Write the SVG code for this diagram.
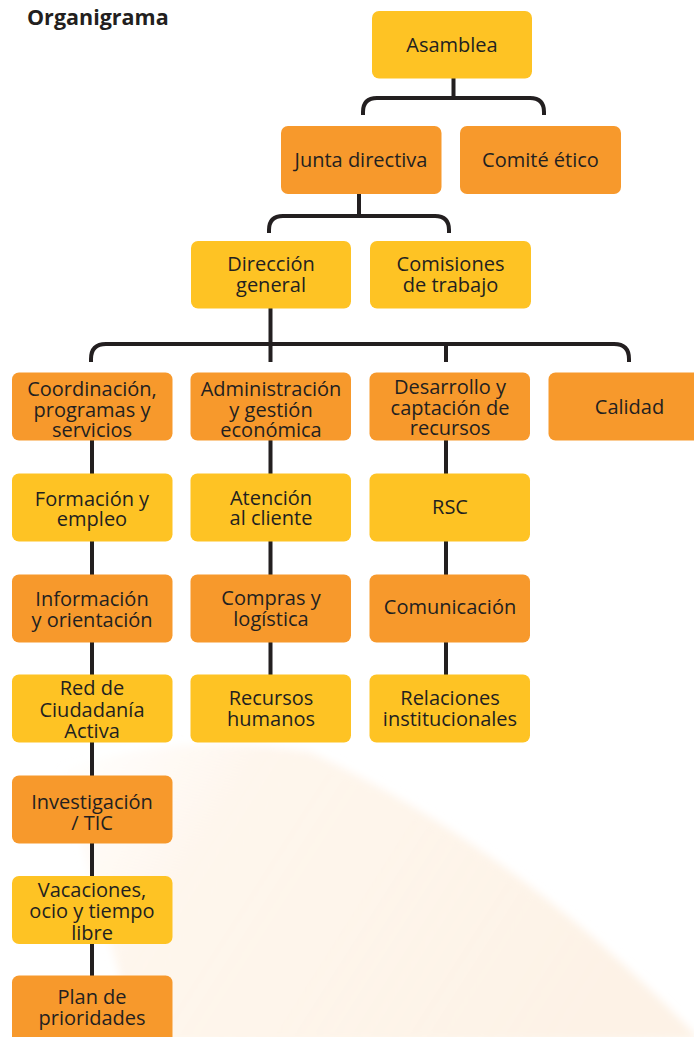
<svg xmlns="http://www.w3.org/2000/svg" width="694" height="1037" viewBox="0 0 694 1037">
<style>
.y{fill:#FEC324}
.o{fill:#F7992C}
text{font-family:"Open Sans","Noto Sans","Liberation Sans",sans-serif;font-size:20px;fill:#231F20;text-anchor:middle}
.title{font-weight:bold;text-anchor:start;font-size:21.5px}
.c{fill:none;stroke:#231F20;stroke-width:4}
</style>
<defs>
<linearGradient id="bgg" x1="0" y1="0" x2="1" y2="0.3">
<stop offset="0" stop-color="#FEF5EB" stop-opacity="0"/>
<stop offset="0.3" stop-color="#FEF5EB" stop-opacity="0.9"/>
<stop offset="1" stop-color="#FDF2E6"/>
</linearGradient>
<filter id="blur" x="-0.2" y="-0.2" width="1.4" height="1.4"><feGaussianBlur stdDeviation="4"/></filter>
</defs>
<rect width="694" height="1037" fill="#FFFFFF"/>
<path d="M60,770 Q180,730 310,752 Q520,850 700,1040 L140,1045 Z" fill="url(#bgg)" filter="url(#blur)"/>
<text class="title" x="27" y="24.5">Organigrama</text>
<g id="connectors">
<path class="c" d="M453.5,78 V98"/>
<path class="c" d="M363,115 V112 Q363,98 377,98 H530 Q544,98 544,112 V115"/>
<path class="c" d="M359,194 V216"/>
<path class="c" d="M269,233 V230 Q269,216 283,216 H435 Q449,216 449,230 V233"/>
<path class="c" d="M270.5,308 V362"/>
<path class="c" d="M91,362 V359 Q91,344 106,344 H614 Q629,344 629,359 V362"/>
<path class="c" d="M446,344 V362"/>
<path class="c" d="M92,440 V980"/>
<path class="c" d="M270.5,440 V680"/>
<path class="c" d="M446,440 V680"/>
</g>
<g id="asamblea"><rect class="y" x="372" y="11" width="160" height="67.5" rx="7"/><text x="452" y="52">Asamblea</text></g>
<g id="junta"><rect class="o" x="281" y="126" width="160.5" height="68" rx="7"/><text x="361" y="167">Junta directiva</text></g>
<g id="comite"><rect class="o" x="460" y="126" width="161" height="68" rx="7"/><text x="540.5" y="167">Comité ético</text></g>
<g id="direccion"><rect class="y" x="191" y="241" width="160" height="67.5" rx="7"/><text x="271" y="271">Dirección</text><text x="271" y="291.5">general</text></g>
<g id="comisiones"><rect class="y" x="370" y="241" width="161" height="67.5" rx="7"/><text x="450.5" y="271">Comisiones</text><text x="450.5" y="291.5">de trabajo</text></g>
<g id="coordinacion"><rect class="o" x="12" y="372.5" width="160.5" height="68" rx="7"/><text x="92" y="396">Coordinación,</text><text x="92" y="416.5">programas y</text><text x="92" y="437">servicios</text></g>
<g id="administracion"><rect class="o" x="190.5" y="372.5" width="160.5" height="68" rx="7"/><text x="271" y="396">Administración</text><text x="271" y="416.5">y gestión</text><text x="271" y="437">económica</text></g>
<g id="desarrollo"><rect class="o" x="369.5" y="372.5" width="160.5" height="68" rx="7"/><text x="450" y="394">Desarrollo y</text><text x="450" y="414.5">captación de</text><text x="450" y="435">recursos</text></g>
<g id="calidad"><rect class="o" x="548.5" y="372.5" width="161" height="68" rx="7"/><text x="629.5" y="413.5">Calidad</text></g>
<g id="formacion"><rect class="y" x="12" y="473.5" width="160.5" height="68" rx="7"/><text x="92" y="505.5">Formación y</text><text x="92" y="526">empleo</text></g>
<g id="atencion"><rect class="y" x="190.5" y="473.5" width="160.5" height="68" rx="7"/><text x="271" y="504.5">Atención</text><text x="271" y="525">al cliente</text></g>
<g id="rsc"><rect class="y" x="369.5" y="473.5" width="160.5" height="68" rx="7"/><text x="450" y="514">RSC</text></g>
<g id="informacion"><rect class="o" x="12" y="574.5" width="160.5" height="68" rx="7"/><text x="92" y="606">Información</text><text x="92" y="626.5">y orientación</text></g>
<g id="compras"><rect class="o" x="190.5" y="574.5" width="160.5" height="68" rx="7"/><text x="271" y="605">Compras y</text><text x="271" y="625.5">logística</text></g>
<g id="comunicacion"><rect class="o" x="369.5" y="574.5" width="160.5" height="68" rx="7"/><text x="450" y="614">Comunicación</text></g>
<g id="red"><rect class="y" x="12" y="674.5" width="160.5" height="68" rx="7"/><text x="92" y="695">Red de</text><text x="92" y="716.5">Ciudadanía</text><text x="92" y="738">Activa</text></g>
<g id="recursos"><rect class="y" x="190.5" y="674.5" width="160.5" height="68" rx="7"/><text x="271" y="705">Recursos</text><text x="271" y="725.5">humanos</text></g>
<g id="relaciones"><rect class="y" x="369.5" y="674.5" width="160.5" height="68" rx="7"/><text x="450" y="705">Relaciones</text><text x="450" y="725.5">institucionales</text></g>
<g id="investigacion"><rect class="o" x="12" y="775.5" width="160.5" height="68" rx="7"/><text x="92" y="809">Investigación</text><text x="92" y="829.5">/ TIC</text></g>
<g id="vacaciones"><rect class="y" x="12" y="876" width="160.5" height="68" rx="7"/><text x="92" y="896.5">Vacaciones,</text><text x="92" y="918">ocio y tiempo</text><text x="92" y="939.5">libre</text></g>
<g id="plan"><rect class="o" x="12" y="975.5" width="160.5" height="75" rx="7"/><text x="92" y="1003.5">Plan de</text><text x="92" y="1025">prioridades</text></g>
</svg>
